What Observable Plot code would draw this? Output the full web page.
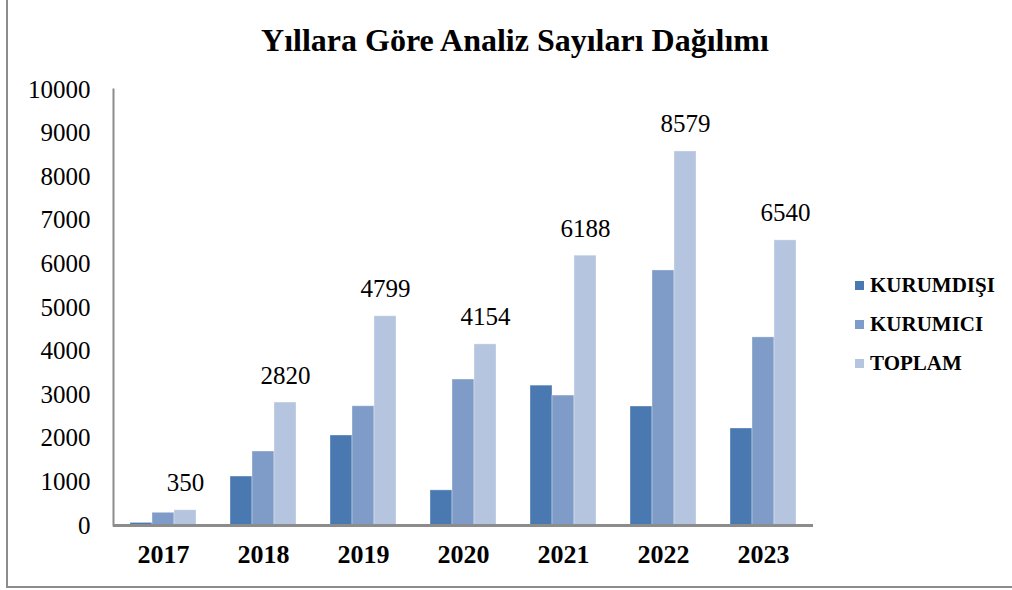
<!DOCTYPE html>
<html>
<head>
<meta charset="utf-8">
<script src="https://cdn.jsdelivr.net/npm/d3@7"></script>
<script src="https://cdn.jsdelivr.net/npm/@observablehq/plot@0.6"></script>
<style>
  html, body { margin: 0; padding: 0; background: #fff; }
  #wrap { position: relative; width: 1012px; height: 590px; overflow: hidden; font-family: "Liberation Serif", "Times New Roman", serif; }
  #border { position: absolute; left: 6px; top: -2px; width: 1100px; height: 586px; border: 2px solid #8c8c8c; pointer-events: none; }
  #title { position: absolute; left: 0; width: 1030px; top: 22px; text-align: center; font-weight: bold; font-size: 32px; color: #000; }
  #legend { position: absolute; left: 855px; top: 266px; }
  .item { display: flex; align-items: center; height: 39px; font-weight: bold; font-size: 21px; color: #000; }
  .sw { width: 9px; height: 9px; margin-right: 6px; }
  #chart { position: absolute; left: 0; top: 0; }
  #chart svg text { font-family: "Liberation Serif", "Times New Roman", serif; }
</style>
</head>
<body>
<div id="wrap">
  <div id="chart"></div>
  <div id="title">Yıllara Göre Analiz Sayıları Dağılımı</div>
  <div id="legend"></div>
  <div id="border"></div>
</div>
<script>
const years = ["2017", "2018", "2019", "2020", "2021", "2022", "2023"];
const seriesNames = ["KURUMDIŞI", "KURUMICI", "TOPLAM"];
const kurumdisi = [59, 1123, 2064, 806, 3208, 2729, 2225];
const kurumici = [291, 1697, 2735, 3348, 2980, 5850, 4315];
const toplam = [350, 2820, 4799, 4154, 6188, 8579, 6540];
const yTicks = [0, 1000, 2000, 3000, 4000, 5000, 6000, 7000, 8000, 9000, 10000];
const colors = ["#4a78b0", "#7f9cc8", "#b5c4df"];

const serif = "'Liberation Serif', 'Times New Roman', serif";
const rows = years.map((y, i) => ({year: y, KURUMDIŞI: kurumdisi[i], KURUMICI: kurumici[i], TOPLAM: toplam[i]}));

const barMarks = seriesNames.map((s, k) =>
  Plot.barY(rows, {
    x: "year", y: s, fill: colors[k],
    insetLeft: 39, insetRight: 39, dx: (k - 1) * 22,
    stroke: "#ffffff", strokeOpacity: 0.35, strokeWidth: 1
  })
);

const chart = Plot.plot({
  width: 1012,
  height: 590,
  marginTop: 89,
  marginBottom: 65,
  marginLeft: 113,
  marginRight: 199,
  style: {fontFamily: serif, background: "transparent", overflow: "visible"},
  x: {type: "band", domain: years, padding: 0, label: null},
  y: {domain: [0, 10000], label: null},
  marks: [
    ...barMarks,
    Plot.text(rows, {x: "year", y: "TOPLAM", text: d => String(d.TOPLAM), dx: 22, dy: -19, lineAnchor: "bottom", fontSize: 25, fontFamily: serif, fill: "#000"}),
    Plot.axisY({ticks: yTicks, tickSize: 0, tickPadding: 23, fontSize: 25, fontFamily: serif, tickFormat: d => String(d), label: null, fill: "#000"}),
    Plot.axisX({tickSize: 0, tickPadding: 19, fontSize: 26, fontFamily: serif, fontWeight: "bold", label: null, fill: "#000"}),
    Plot.frame({anchor: "left", stroke: "#8c8c8c", strokeWidth: 2, strokeOpacity: 1}),
    Plot.ruleY([0], {stroke: "#8c8c8c", strokeWidth: 3})
  ]
});
document.getElementById("chart").appendChild(chart);

const legend = document.getElementById("legend");
seriesNames.forEach((s, k) => {
  const it = document.createElement("div");
  it.className = "item";
  const sw = document.createElement("span");
  sw.className = "sw";
  sw.style.background = colors[k];
  const t = document.createElement("span");
  t.textContent = s;
  it.appendChild(sw);
  it.appendChild(t);
  legend.appendChild(it);
});
</script>
</body>
</html>
